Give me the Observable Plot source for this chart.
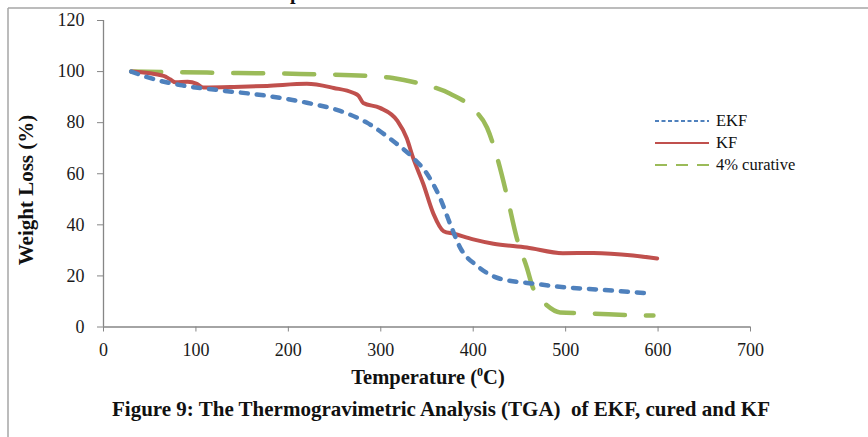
<!DOCTYPE html>
<html><head><meta charset="utf-8">
<script src="https://cdn.jsdelivr.net/npm/d3@7"></script>
<script src="https://cdn.jsdelivr.net/npm/@observablehq/plot@0.6"></script>
<style>body{margin:0;background:#fff} svg{display:block}</style>
</head><body><div id="chart"></div>
<script>
// Data
const ekfT = [30, 50, 83, 123, 177, 220, 256, 285, 313, 335, 350, 364, 375, 386, 404, 429, 465, 501, 537, 592];
const ekfW = [100, 97.5, 94.7, 92.8, 90.5, 87.8, 84.6, 80, 72.9, 66.2, 60, 50.6, 40.4, 31, 24, 18.9, 17, 15.5, 14.6, 13.1];
const kfT = [30, 65, 72, 78, 91, 101, 108, 141, 177, 220, 249, 270, 276, 281, 299, 318, 328, 335, 346, 357, 368, 379, 400, 422, 458, 497, 530, 573, 599];
const kfW = [100, 98.3, 97, 95.8, 96, 95.2, 93.8, 94, 94.4, 95.2, 93.6, 91.7, 90.5, 87.7, 85.8, 80.7, 74, 66.2, 56, 44.3, 37.5, 36.5, 34.3, 32.6, 31.1, 28.9, 29, 28, 26.8];
const curT = [30, 112, 213, 285, 313, 339, 375, 400, 415, 426, 437, 447, 458, 465, 472, 480, 494, 526, 584, 595];
const curW = [100, 99.6, 99.1, 98.3, 97.5, 95.6, 91.3, 85.4, 78, 66.2, 50.6, 35, 23.3, 15, 11.5, 8.4, 5.7, 5.3, 4.5, 4.5];
const seriesNames = ["EKF", "KF", "4% curative"];
const seriesColors = ["#4F81BD", "#C0504D", "#9BBB59"];
const xTicks = [0, 100, 200, 300, 400, 500, 600, 700];
const yTicks = [0, 20, 40, 60, 80, 100, 120];
const yLabel = "Weight Loss (%)";
const xLabel = "Temperature (";
const caption = "Figure 9: The Thermogravimetric Analysis (TGA)  of EKF, cured and KF";

const rows = (T, W) => T.map((t, i) => ({t, w: W[i]}));
const serif = "'Liberation Serif', 'Times New Roman', serif";
const axisGray = "#868686";

const plot = Plot.plot({
  width: 868, height: 437,
  marginLeft: 103, marginRight: 118, marginTop: 20, marginBottom: 110.5,
  style: {fontFamily: serif, fontSize: "18px", color: "#1a1a1a", background: "white"},
  x: {domain: [0, 700]},
  y: {domain: [0, 120]},
  marks: [
    Plot.axisX({ticks: xTicks, tickSize: 5, tickPadding: 11, stroke: axisGray, fill: "#1a1a1a", label: null}),
    Plot.axisY({ticks: yTicks, tickSize: 6, tickPadding: 13, stroke: axisGray, fill: "#1a1a1a", label: null}),
    Plot.ruleX([0], {stroke: axisGray, strokeWidth: 1.3}),
    Plot.ruleY([0], {stroke: axisGray, strokeWidth: 1.3}),
    Plot.line(rows(curT, curW), {x: "t", y: "w", stroke: seriesColors[2], strokeWidth: 4.5, strokeDasharray: "30,21", strokeLinecap: "round", curve: "monotone-x"}),
    Plot.line(rows(kfT, kfW), {x: "t", y: "w", stroke: seriesColors[1], strokeWidth: 4, curve: "monotone-x"}),
    Plot.line(rows(ekfT, ekfW), {x: "t", y: "w", stroke: seriesColors[0], strokeWidth: 4.5, strokeDasharray: "7,9", strokeLinecap: "round", curve: "monotone-x"})
  ]
});

const svg = d3.select(plot);
// frame lines
svg.append("line").attr("x1", 8).attr("x2", 868).attr("y1", 8).attr("y2", 8).attr("stroke", "#a6a6a6").attr("stroke-width", 1.5);
svg.append("line").attr("x1", 8).attr("x2", 8).attr("y1", 8).attr("y2", 437).attr("stroke", "#a6a6a6").attr("stroke-width", 1.5);
// cut-off heading fragment (partly above the picture, as in the reference)
svg.append("text").attr("x", 290).attr("y", -1).attr("text-anchor", "start").attr("font-family", serif).attr("font-weight", "bold").attr("font-size", 20).attr("fill", "#111").text("p");
// y label
svg.append("text").attr("transform", "translate(33,190) rotate(-90)").attr("text-anchor", "middle")
  .attr("font-family", serif).attr("font-weight", "bold").attr("font-size", 21).attr("fill", "#111").text(yLabel);
// x label
const xl = svg.append("text").attr("x", 428).attr("y", 384).attr("text-anchor", "middle")
  .attr("font-family", serif).attr("font-weight", "bold").attr("font-size", 20.5).attr("fill", "#111");
xl.append("tspan").text(xLabel);
xl.append("tspan").attr("font-size", 12).attr("dy", -8).text("0");
xl.append("tspan").attr("dy", 8).text("C)");
// caption
svg.append("text").attr("x", 441).attr("y", 416).attr("text-anchor", "middle")
  .attr("font-family", serif).attr("font-weight", "bold").attr("font-size", 21).attr("fill", "#111").text(caption);
// legend
const legY = [121, 143, 165];
const dashes = ["4,2.5", null, "12,9"];
seriesNames.forEach((n, i) => {
  const l = svg.append("line").attr("x1", 655).attr("x2", 709).attr("y1", legY[i]).attr("y2", legY[i])
    .attr("stroke", seriesColors[i]).attr("stroke-width", 2);
  if (dashes[i]) l.attr("stroke-dasharray", dashes[i]);
  svg.append("text").attr("x", 716).attr("y", legY[i] + 5).attr("text-anchor", "start").attr("font-family", serif).attr("font-size", 16.5)
    .attr("fill", "#111").text(n);
});
document.getElementById("chart").append(plot);
</script>
</body></html>
